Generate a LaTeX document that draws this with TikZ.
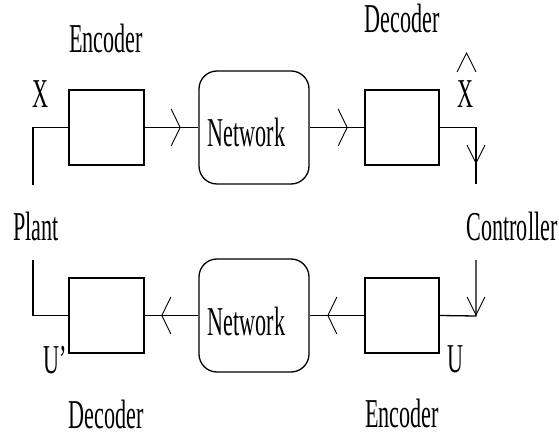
\documentclass[tikz,border=0pt]{standalone}
\usepackage{fontspec}
\setmainfont[FakeStretch=0.54]{Liberation Serif}
\usetikzlibrary{arrows.meta,decorations.markings}

\tikzset{
  blk/.style={draw, line width=1.3pt, minimum width=75pt, minimum height=75pt, inner sep=0pt},
  netbox/.style={draw, line width=1.3pt, rounded corners=18pt, minimum width=110pt, minimum height=113pt, inner sep=0pt},
  lbl/.style={font=\fontsize{41}{41}\selectfont, inner sep=0pt, text depth=0pt, anchor=base},
  wire/.style={line width=1.6pt},
  vwire/.style={line width=1.3pt},
  hmark/.style={postaction={decorate}, decoration={markings,
    mark=at position #1 with {\arrow{Straight Barb[length=9pt,width=37pt,line width=0.9pt]}}}},
  vmark/.style={postaction={decorate}, decoration={markings,
    mark=at position #1 with {\arrow{Straight Barb[length=18pt,width=18pt,line width=0.9pt]}}}},
}

\begin{document}
\begin{tikzpicture}[x=1pt, y=-1pt]
\useasboundingbox (0,0) rectangle (559,435);

% forward channel
\node[blk] (enc1) at (106.5,127.5) {};
\node[netbox] (net1) at (254,127.5) {};
\node[blk, minimum width=74pt] (dec1) at (402,127.5) {};

% return channel
\node[blk] (dec2) at (106.5,315.5) {};
\node[netbox] (net2) at (254,315.5) {};
\node[blk, minimum width=74pt] (enc2) at (402,315.5) {};

% labels
\node[lbl] (encT) at (106,53) {Encoder};
\node[lbl] (decT) at (402,33) {Decoder};
\node[lbl] (decB) at (106,428) {Decoder};
\node[lbl] (encB) at (402,427) {Encoder};
\node[lbl] (net1t) at (246.5,147) {Network};
\node[lbl] (net2t) at (246.5,335) {Network};
\node[lbl] (xin) at (40,108) {X};
\node[lbl] (xhat) at (465,108) {X};
\draw[line width=0.9pt] (457,72) -- (466.5,53) -- (476,72);
\node[lbl] (plant) at (36,241) {Plant};
\node[lbl] (ctrl) at (512,241) {Controller};
\node[lbl, anchor=base west] (uprime) at (43,373) {U’};
\node[lbl] (u) at (455,372) {U};

% free wire ends
\coordinate (plantOut) at (33,185);
\coordinate (plantIn) at (33,260);
\coordinate (ctrlIn) at (476,184);
\coordinate (ctrlOut) at (476,260);
\coordinate (ctrlCorner) at (476,316);

% connectors
\draw[wire] (plantOut) |- (enc1.west);
\draw[wire, hmark=36pt] (enc1.east) -- (net1.west);
\draw[wire, hmark=38pt] (net1.east) -- (dec1.west);
\draw[wire, vmark=73pt] (dec1.east) -| (ctrlIn);

\draw[vwire, vmark=55.9pt] (ctrlOut) -- (ctrlCorner) -- (enc2.east);
\draw[wire, hmark=37pt] (enc2.west) -- (net2.east);
\draw[wire, hmark=37pt] (net2.west) -- (dec2.east);
\draw[wire] (plantIn) |- (dec2.west);
\end{tikzpicture}
\end{document}
